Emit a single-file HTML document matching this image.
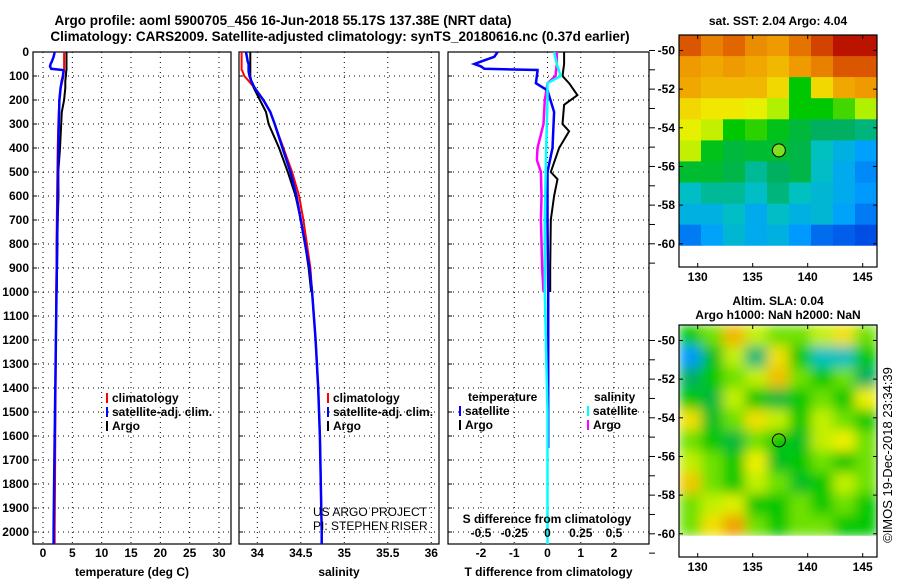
<!DOCTYPE html>
<html><head><meta charset="utf-8"><style>
html,body{margin:0;padding:0;background:#fff;width:900px;height:580px;overflow:hidden}
svg text{font-family:"Liberation Sans",sans-serif;font-weight:bold;font-size:12px;fill:#000}
</style></head><body>
<svg id="chart" width="900" height="580" viewBox="0 0 900 580" xmlns="http://www.w3.org/2000/svg">
<text x="283" y="25" text-anchor="middle" style="font-size:13.5px">Argo profile: aoml 5900705_456 16-Jun-2018 55.17S 137.38E (NRT data)</text>
<text x="340" y="41" text-anchor="middle" style="font-size:13.5px">Climatology: CARS2009. Satellite-adjusted climatology: synTS_20180616.nc (0.37d earlier)</text>
<g id="g"></g>
</svg>
<script>
// ---- profile data ----
const depthP = [0,20,40,50,60,70,75,80,100,120,150,200,250,300,400,500,600,700,800,900,1000,1200,1400,1600,1800,2000,2050];
const tempClim = [3.6,3.6,3.6,3.6,3.6,3.6,3.6,3.55,3.5,3.3,3.0,2.8,2.7,2.6,2.5,2.45,2.4,2.35,2.3,2.3,2.25,2.2,2.15,2.1,2.05,2.0,2.0];
const tempSat = [2.0,1.8,1.5,1.3,1.2,1.4,3.4,3.5,3.4,3.2,3.0,2.8,2.75,2.7,2.6,2.55,2.5,2.45,2.4,2.35,2.3,2.2,2.1,2.0,1.9,1.8,1.8];
const depthArgo = [0,20,40,50,60,70,75,80,100,120,150,200,250,300,400,500,600,700,800,900,1000];
const tempArgo = [4.0,4.0,4.0,4.0,4.0,4.0,4.0,3.95,3.9,3.8,3.8,3.6,3.2,3.1,2.9,2.6,2.65,2.5,2.45,2.4,2.35];
const salClim = [33.82,33.82,33.82,33.82,33.82,33.82,33.82,33.83,33.85,33.9,33.97,34.07,34.15,34.2,34.3,34.4,34.48,34.53,34.57,34.61,34.63,34.67,34.7,34.72,34.73,34.74,34.74];
const salSat = [33.87,33.88,33.89,33.9,33.9,33.9,33.9,33.9,33.91,33.93,33.97,34.07,34.15,34.2,34.29,34.38,34.45,34.5,34.55,34.6,34.63,34.67,34.7,34.72,34.73,34.74,34.74];
const salArgo = [33.92,33.92,33.92,33.92,33.92,33.92,33.92,33.92,33.92,33.93,33.96,34.03,34.1,34.13,34.25,34.35,34.44,34.5,34.55,34.59,34.62];
// ---- difference data ----
const depthTSatD = [0,20,40,50,60,70,75,80,130,160,250,400,500,700,1000,1300,1650];
const tSatDiff = [-1.5,-1.6,-2.0,-2.2,-2.0,-1.9,-0.3,-0.3,-0.35,0,0.2,0.15,0,0,0.02,0.02,0.02];
const depthTArgoD = [0,50,100,130,180,220,300,330,400,500,530,600,700,900,1000];
const tArgoDiff = [0.5,0.5,0.45,0.65,0.9,0.5,0.45,0.65,0.35,0.1,0.3,0.2,0.1,0.08,0.08];
const depthSArgoD = [0,50,100,130,200,300,400,450,500,600,700,900,1000];
const sArgoDiff = [0.07,0.07,0.06,0,-0.02,-0.03,-0.075,-0.08,-0.05,-0.045,-0.05,-0.04,-0.03];
const depthSSatD = [0,50,100,130,200,400,700,1000,1500,2050];
const sSatDiff = [0.05,0.07,0.1,0.0,0.0,-0.01,-0.02,-0.02,0,0];
// ---- axis ticks ----
const depthTicks = [0,100,200,300,400,500,600,700,800,900,1000,1100,1200,1300,1400,1500,1600,1700,1800,1900,2000];
const tempTicks = [0,5,10,15,20,25,30];
const salTicks = [34,34.5,35,35.5,36];
const salTickLabels = ["34","34.5","35","35.5","36"];
const tDiffTicks = [-2,-1,0,1,2];
const sDiffTicks = [-0.5,-0.25,0,0.25,0.5];
const sDiffLabels = ["-0.5","-0.25","0","0.25","0.5"];
// ---- maps (colour index 0..1) ----
const sstGrid = [
[0.86,0.8,0.84,0.78,0.76,0.82,0.88,0.93,0.93],
[0.76,0.74,0.76,0.74,0.72,0.76,0.8,0.86,0.86],
[0.74,0.72,0.72,0.72,0.68,0.5,0.68,0.74,0.76],
[0.68,0.66,0.66,0.64,0.58,0.5,0.5,0.53,0.58],
[0.64,0.6,0.5,0.52,0.48,0.45,0.42,0.42,0.4],
[0.6,0.48,0.45,0.46,0.46,0.44,0.35,0.3,0.25],
[0.46,0.46,0.44,0.38,0.42,0.44,0.34,0.28,0.22],
[0.34,0.38,0.38,0.34,0.4,0.35,0.32,0.28,0.24],
[0.3,0.3,0.34,0.28,0.34,0.3,0.32,0.26,0.2],
[0.2,0.26,0.32,0.28,0.3,0.24,0.18,0.16,0.14]];
const slaGrid = [
[0.5,0.55,0.72,0.6,0.55,0.55,0.6,0.67,0.55],
[0.24,0.47,0.6,0.4,0.67,0.5,0.35,0.35,0.5],
[0.42,0.5,0.55,0.6,0.71,0.55,0.5,0.55,0.42],
[0.5,0.45,0.6,0.5,0.45,0.5,0.55,0.5,0.65],
[0.67,0.47,0.55,0.67,0.6,0.5,0.6,0.55,0.5],
[0.55,0.5,0.45,0.55,0.5,0.47,0.6,0.65,0.55],
[0.6,0.55,0.5,0.65,0.47,0.5,0.55,0.5,0.55],
[0.7,0.55,0.5,0.6,0.55,0.47,0.5,0.6,0.55],
[0.55,0.6,0.63,0.5,0.5,0.55,0.5,0.55,0.5],
[0.55,0.67,0.75,0.55,0.5,0.55,0.55,0.5,0.5]];
const latTicks = [-50,-52,-54,-56,-58,-60];
const lonTicks = [130,135,140,145];
const floatLon = 137.38, floatLat = -55.17;

const NS='http://www.w3.org/2000/svg';
const G=document.getElementById('g');
function mk(tag,attrs,parent){const e=document.createElementNS(NS,tag);for(const k in attrs)e.setAttribute(k,attrs[k]);(parent||G).appendChild(e);return e;}
function txt(x,y,s,anchor,parent,extra){const t=mk('text',Object.assign({x:x,y:y,'text-anchor':anchor||'start'},extra||{}),parent);t.textContent=s;return t;}

const Y0=52, Y1=544;
const yD=d=>Y0+(d/2050)*(Y1-Y0);
function lin(d0,d1,r0,r1){return v=>r0+(v-d0)/(d1-d0)*(r1-r0);}
const xT=lin(0,30,43,219);
const xS=lin(34,36,257.3,431.3);
const xTD=lin(-2,2,481,614);
const xSD=v=>xTD(v*4);

function panel(name,x0,x1,xticks,xf,labels,xlabel){
  const g=mk('g',{});
  
  
  depthTicks.forEach(d=>{const l=mk('line',{x1:x0,x2:x1,y1:yD(d),y2:yD(d),stroke:'#000','stroke-width':1,'stroke-dasharray':'1,4'},g);
    const t=mk('line',{x1:x0,x2:x0+4,y1:yD(d),y2:yD(d),stroke:'#000'},g);});
  xticks.forEach((v,i)=>{const x=xf(v);
    const l=mk('line',{x1:x,x2:x,y1:Y0,y2:Y1,stroke:'#000','stroke-width':1,'stroke-dasharray':'1,4'},g);
    if(labels){const t=txt(x,557,labels[i],'middle',g);}});
  const r=mk('rect',{x:x0,y:Y0,width:x1-x0,height:Y1-Y0,fill:'none',stroke:'#000','stroke-width':1.2},g);
  
  if(xlabel){const t=txt((x0+x1)/2,576,xlabel,'middle',g);}
  return g;
}
function prof(g,name,depths,vals,xf,color,w){
  const pts=[];for(let i=0;i<depths.length;i++){pts.push(xf(vals[i]).toFixed(1)+','+yD(depths[i]).toFixed(1));}
  const p=mk('polyline',{points:pts.join(' '),fill:'none',stroke:color,'stroke-width':w||2},g);
  
}
const p1=panel('temperature-panel',33,231,tempTicks,xT,tempTicks.map(String),'temperature (deg C)');
depthTicks.forEach(d=>{const t=txt(29,yD(d)+4,String(d),'end',p1);});
prof(p1,'temp-climatology-line',depthP,tempClim,xT,'#f00');
prof(p1,'temp-argo-line',depthArgo,tempArgo,xT,'#000');
prof(p1,'temp-satellite-line',depthP,tempSat,xT,'#00f',2.5);
const p2=panel('salinity-panel',239,439,salTicks,xS,salTickLabels,'salinity');
prof(p2,'sal-climatology-line',depthP,salClim,xS,'#f00');
prof(p2,'sal-argo-line',depthArgo,salArgo,xS,'#000');
prof(p2,'sal-satellite-line',depthP,salSat,xS,'#00f',2.5);
const p3=panel('difference-panel',448,649,tDiffTicks,xTD,tDiffTicks.map(String),'T difference from climatology');
prof(p3,'t-argo-diff-line',depthTArgoD,tArgoDiff,xTD,'#000');
prof(p3,'s-argo-diff-line',depthSArgoD,sArgoDiff,xSD,'#f0f',2.5);
prof(p3,'t-satellite-diff-line',depthTSatD,tSatDiff,xTD,'#00f',2.5);
prof(p3,'s-satellite-diff-line',depthSSatD,sSatDiff,xSD,'#0ff',2.5);
sDiffTicks.forEach((v,i)=>{const t=txt(xSD(v),537,sDiffLabels[i],'middle',p3);});
{const t=txt(547,523,'S difference from climatology','middle',p3);}

function legend(g,x,y,items){
  items.forEach((it,i)=>{const yy=y+i*14;
    const m=mk('line',{x1:x,x2:x,y1:yy-9,y2:yy+1,stroke:it[1],'stroke-width':2},g);
    const t=txt(x+5,yy,it[0],'start',g);});
}
legend(p1,107,402,[['climatology','#f00'],['satellite-adj. clim.','#00f'],['Argo','#000']]);
legend(p2,328,402,[['climatology','#f00'],['satellite-adj. clim.','#00f'],['Argo','#000']]);
{const t=txt(468,401,'temperature','start',p3);
 const t2=txt(594,401,'salinity','start',p3);}
legend(p3,460,415,[['satellite','#00f'],['Argo','#000']]);
legend(p3,588,415,[['satellite','#0ff'],['Argo','#f0f']]);
{const a=txt(313,516,'US ARGO PROJECT','start',p2,{style:'font-weight:normal'});
 const b=txt(313,530,'PI: STEPHEN RISER','start',p2,{style:'font-weight:normal'});}

// ---- maps ----
const cmapStops=[[0,[0,0,140]],[0.12,[0,64,224]],[0.25,[0,160,255]],[0.35,[0,192,192]],[0.42,[0,176,96]],[0.5,[0,200,0]],[0.58,[176,240,0]],[0.65,[240,240,0]],[0.75,[240,160,0]],[0.85,[224,96,0]],[0.95,[176,0,0]],[1,[150,0,0]]];
function cmap(v){v=Math.max(0,Math.min(1,v));
  for(let i=1;i<cmapStops.length;i++){if(v<=cmapStops[i][0]){const a=cmapStops[i-1],b=cmapStops[i];const t=(v-a[0])/(b[0]-a[0]);
    return 'rgb('+[0,1,2].map(k=>Math.round(a[1][k]+t*(b[1][k]-a[1][k]))).join(',')+')';}}
  return 'rgb(150,0,0)';}
const LON0=128.3,LON1=146.3,LAT0=-49.2,LAT1=-61.2,DATA_LAT_END=-60.1;
function mapPanel(name,top,grid,blur,title1,title2,filled){
  const h=232, left=679, w=198;
  const xL=lin(LON0,LON1,left,left+w), yL=lin(LAT0,LAT1,top,top+h);
  const g=mk('g',{});
  
  const cp=mk('clipPath',{id:'clip'+top},g);mk('rect',{x:left,y:top,width:w,height:yL(DATA_LAT_END)-top},cp);
  const outer=mk('g',{'clip-path':'url(#clip'+top+')'},g);
  const cg=mk('g',blur?{filter:'url(#blur)'}:{},outer);
  const rows=grid.length, cols=grid[0].length;
  const ch=(yL(DATA_LAT_END)-top)/rows, cw=w/cols;
  for(let r=0;r<rows;r++)for(let c=0;c<cols;c++){
    const cell=mk('rect',{x:(left+c*cw).toFixed(1),y:(top+r*ch).toFixed(1),width:(cw+0.6).toFixed(1),height:(ch+0.6).toFixed(1),fill:cmap(grid[r][c])},cg);
    }
  const fr=mk('rect',{x:left,y:top,width:w,height:h,fill:'none',stroke:'#000','stroke-width':1.2},g);
  
  latTicks.forEach(v=>{const y=yL(v);
    mk('line',{x1:left,x2:left+4,y1:y,y2:y,stroke:'#000'},g);mk('line',{x1:left+w-4,x2:left+w,y1:y,y2:y,stroke:'#000'},g);
    const t=txt(675,y+4,String(v),'end',g);});
  for(let v=-50;v>=-61;v--){const tk=mk('line',{x1:649,x2:655,y1:yL(v),y2:yL(v),stroke:'#000'},g);}
  lonTicks.forEach(v=>{const x=xL(v);
    mk('line',{x1:x,x2:x,y1:top,y2:top+4,stroke:'#000'},g);mk('line',{x1:x,x2:x,y1:top+h-4,y2:top+h,stroke:'#000'},g);
    const t=txt(x,top+h+14,String(v),'middle',g);});
  const c=mk('circle',{cx:xL(floatLon),cy:yL(floatLat),r:6.5,fill:filled?'#80e020':'none',stroke:'#000','stroke-width':1},g);
  
  if(title2){const t=txt(778,top-20,title1,'middle',g);
    const t2=txt(778,top-6,title2,'middle',g);}
  else{const t=txt(778,top-10,title1,'middle',g);}
}
const defs=mk('defs',{});const f=mk('filter',{id:'blur',x:'-10%',y:'-10%',width:'120%',height:'120%'},defs);mk('feGaussianBlur',{stdDeviation:6,edgeMode:'duplicate'},f);
mapPanel('sst-map',35,sstGrid,false,'sat. SST: 2.04 Argo: 4.04',null,true);
mapPanel('sla-map',325,slaGrid,true,'Altim. SLA: 0.04','Argo h1000: NaN h2000: NaN',false);
{const t=txt(0,0,'©IMOS 19-Dec-2018 23:34:39','middle',G,{transform:'translate(892,455) rotate(-90)',style:'font-weight:normal;font-size:13px'});
 }
</script>
</body></html>
